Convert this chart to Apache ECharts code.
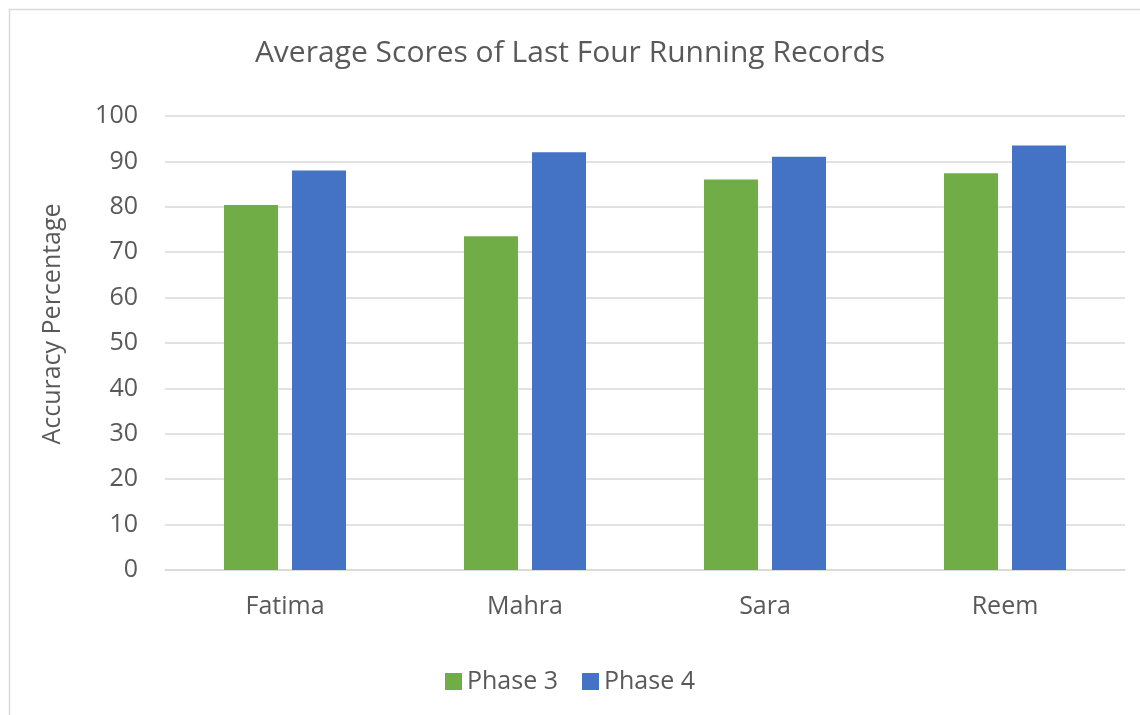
<!DOCTYPE html>
<html>
<head>
    <meta charset="utf-8">
    <title>Average Scores</title>
    <script src="https://cdn.jsdelivr.net/npm/echarts@6/dist/echarts.min.js"></script>
    <style>
        html, body { margin: 0; padding: 0; background: #fff; }
    </style>
</head>
<body>
<div id="main" style="width: 1140px;height:715px;"></div>
<script type="text/javascript">
    // data
    var students = ['Fatima', 'Mahra', 'Sara', 'Reem'];
    var phase3 = [80.4, 73.5, 86, 87.4];
    var phase4 = [88, 92, 91, 93.5];

    var font = 'Open Sans';
    var grey = '#595959';

    var myChart = echarts.init(document.getElementById('main'));

    myChart.setOption({
        animation: false,
        textStyle: { fontFamily: font },
        title: {
            text: 'Average Scores of Last Four Running Records',
            left: 'center',
            top: 33,
            textStyle: { fontFamily: font, fontSize: 30, fontWeight: 'normal', color: grey }
        },
        // chart frame
        graphic: [{
            type: 'rect',
            shape: { x: 9.5, y: 9.5, width: 1140, height: 720 },
            style: { fill: 'none', stroke: '#d9d9d9', lineWidth: 1.5 },
            silent: true
        }],
        legend: {
            bottom: 16,
            left: 'center',
            itemWidth: 17,
            itemHeight: 17,
            itemGap: 24,
            icon: 'rect',
            textStyle: { fontFamily: font, fontSize: 25, color: grey },
            data: ['Phase 3', 'Phase 4']
        },
        grid: { left: 165, right: 15, top: 116, bottom: 145 },
        xAxis: {
            type: 'category',
            data: students,
            axisLine: { lineStyle: { color: '#d9d9d9', width: 1.5 } },
            axisTick: { show: false },
            axisLabel: { fontSize: 25, color: grey, margin: 24 }
        },
        yAxis: {
            type: 'value',
            min: 0,
            max: 100,
            interval: 10,
            name: 'Accuracy Percentage',
            nameLocation: 'middle',
            nameGap: 100,
            nameTextStyle: { fontSize: 25, color: grey, padding: [0, 0, 0, 38] },
            axisLine: { show: false },
            axisTick: { show: false },
            axisLabel: { fontSize: 25, color: grey, margin: 27 },
            splitLine: { lineStyle: { color: '#d9d9d9', width: 1.5 } }
        },
        series: [{
            name: 'Phase 3',
            type: 'bar',
            data: phase3,
            barWidth: 54,
            barGap: '26%',
            itemStyle: { color: '#70ad47' }
        }, {
            name: 'Phase 4',
            type: 'bar',
            data: phase4,
            barWidth: 54,
            itemStyle: { color: '#4472c4' }
        }]
    });
</script>
</body>
</html>
